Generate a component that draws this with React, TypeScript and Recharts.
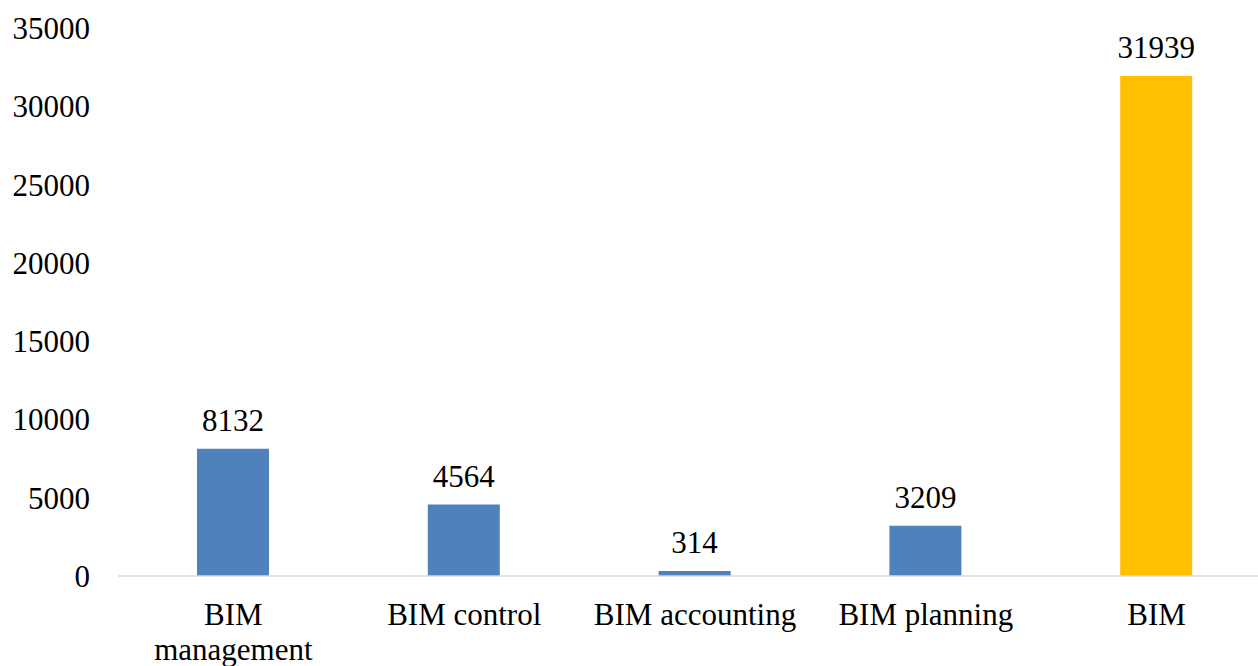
import { BarChart, Bar, XAxis, YAxis, Cell, LabelList } from 'recharts';

const categories = ['BIM management', 'BIM control', 'BIM accounting', 'BIM planning', 'BIM'];
const counts = [8132, 4564, 314, 3209, 31939];
const barColors = ['#4F81BD', '#4F81BD', '#4F81BD', '#4F81BD', '#FFC000'];
const yTicks = [0, 5000, 10000, 15000, 20000, 25000, 30000, 35000];

const FONT = 'Liberation Serif';
const FONT_SIZE = 31;
const LABEL_MAX_WIDTH = 216;

const data = categories.map((name, i) => ({ name, value: counts[i], color: barColors[i] }));

let ctx: CanvasRenderingContext2D | null = null;
function measure(text: string) {
    if (!ctx) ctx = document.createElement('canvas').getContext('2d');
    if (!ctx) return text.length * FONT_SIZE * 0.5;
    ctx.font = `${FONT_SIZE}px ${FONT}`;
    return ctx.measureText(text).width;
}

// greedy word wrap against the category slot width
function wrapLabel(label: string) {
    const lines: string[] = [];
    let cur = '';
    label.split(' ').forEach(w => {
        const next = cur ? `${cur} ${w}` : w;
        if (cur && measure(next) > LABEL_MAX_WIDTH) {
            lines.push(cur);
            cur = w;
        } else {
            cur = next;
        }
    });
    if (cur) lines.push(cur);
    return lines;
}

function CategoryTick({ x, y, payload }: any) {
    const lines = wrapLabel(String(payload.value));
    return (
        <text x={x} y={y} textAnchor="middle" fill="#000" fontFamily={FONT} fontSize={FONT_SIZE}>
            {lines.map((line, i) => (
                <tspan key={i} x={x} dy={i === 0 ? '0.71em' : 35}>{line}</tspan>
            ))}
        </text>
    );
}

export default function App() {
    return (
        <div style={{ position: 'fixed', left: 0, top: 0, width: 1258, height: 666, overflow: 'hidden', background: '#fff' }}>
            <BarChart
                width={1272}
                height={666}
                data={data}
                margin={{ top: 28, right: 0, bottom: 0, left: 0 }}
            >
                <XAxis
                    dataKey="name"
                    height={90}
                    axisLine={{ stroke: '#D9D9D9', strokeWidth: 1.5 }}
                    tickLine={false}
                    tickSize={0}
                    tickMargin={27}
                    interval={0}
                    tick={<CategoryTick />}
                />
                <YAxis
                    width={118}
                    domain={[0, 35000]}
                    ticks={yTicks}
                    axisLine={false}
                    tickLine={false}
                    tickSize={0}
                    tickMargin={28}
                    tick={{ fill: '#000', fontFamily: FONT, fontSize: FONT_SIZE }}
                />
                <Bar dataKey="value" barSize={72} isAnimationActive={false}>
                    {data.map((d, i) => (
                        <Cell key={`cell-${i}`} fill={d.color} />
                    ))}
                    <LabelList
                        dataKey="value"
                        position="top"
                        offset={18}
                        fill="#000"
                        fontFamily={FONT}
                        fontSize={FONT_SIZE}
                    />
                </Bar>
            </BarChart>
        </div>
    );
}
